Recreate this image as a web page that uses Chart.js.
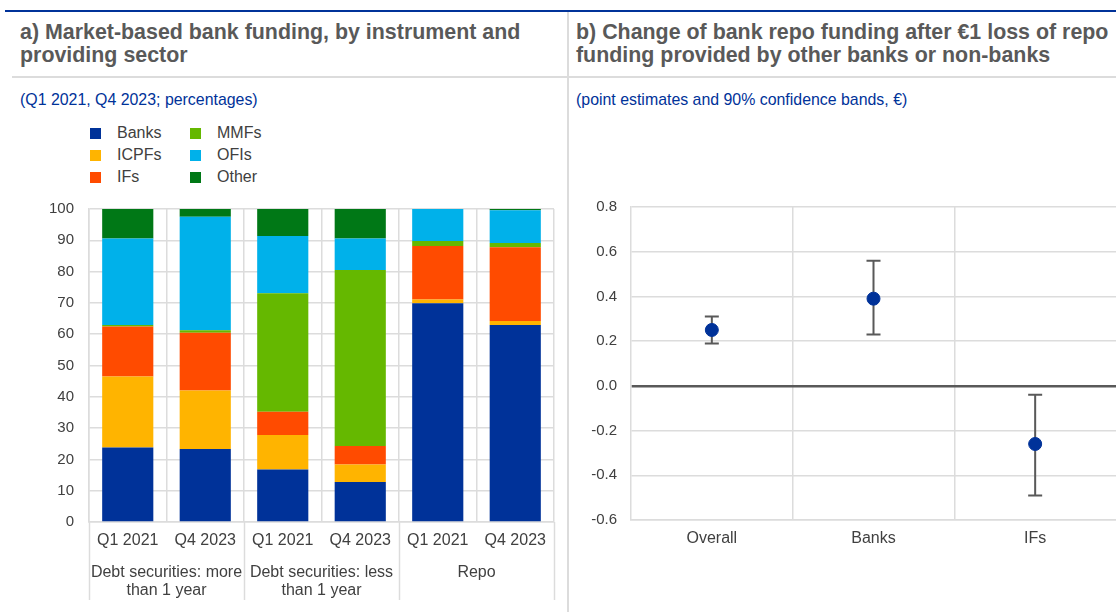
<!DOCTYPE html>
<html lang="en">
<head>
<meta charset="UTF-8">
<title>Bank funding</title>
<script src="https://cdn.jsdelivr.net/npm/chart.js"></script>
<style>
  body { margin: 0; width: 1116px; height: 612px; overflow: hidden; background: #fff; font-family: "Liberation Sans", Arial, sans-serif; position: relative; }
  .abs { position: absolute; }
  .title { font-weight: bold; font-size: 21.4px; line-height: 23px; color: #595959; white-space: nowrap; }
  .sub { font-size: 15.9px; line-height: 18px; color: #003299; }
  #legend { left: 90px; top: 122px; display: grid; grid-template-rows: repeat(3, 22px); grid-auto-flow: column; grid-template-columns: 100px 100px; font-size: 16px; color: #404040; }
  #legend div { display: flex; align-items: center; }
  #legend span.box { width: 11px; height: 11px; margin-right: 16px; display: inline-block; }
</style>
</head>
<body>
<div class="abs" style="left:5px;top:10px;width:1111px;height:2px;background:#003299"></div>
<div class="abs" style="left:567px;top:12px;width:2px;height:600px;background:#dcdcdc"></div>
<div class="abs" style="left:12px;top:76px;width:1104px;height:2px;background:#dcdcdc"></div>

<div class="abs title" style="left:20px;top:21px">a) Market-based bank funding, by instrument and<br>providing sector</div>
<div class="abs title" style="left:576px;top:21px">b) Change of bank repo funding after €1 loss of repo<br>funding provided by other banks or non-banks</div>
<div class="abs sub" style="left:20px;top:91px">(Q1 2021, Q4 2023; percentages)</div>
<div class="abs sub" style="left:576px;top:91px">(point estimates and 90% confidence bands, €)</div>

<div id="legend" class="abs"></div>

<div class="abs" style="left:0;top:185px;width:567px;height:427px"><canvas id="left"></canvas></div>
<div class="abs" style="left:568px;top:184px;width:557px;height:428px"><canvas id="right"></canvas></div>

<script>
// panel a
const categories = ['Q1 2021', 'Q4 2023', 'Q1 2021', 'Q4 2023', 'Q1 2021', 'Q4 2023'];
const groups = [['Debt securities: more', 'than 1 year'], ['Debt securities: less', 'than 1 year'], 'Repo'];
const banks = [23.8, 23.3, 16.8, 12.8, 69.9, 62.9];
const icpfs = [22.7, 18.7, 11.0, 5.6, 1.2, 1.3];
const ifs = [16.0, 18.5, 7.4, 5.9, 17.1, 23.6];
const mmfs = [0.4, 0.8, 37.9, 56.2, 1.6, 1.3];
const ofis = [27.7, 36.2, 18.3, 10.1, 10.2, 10.5];
const other = [9.4, 2.5, 8.6, 9.4, 0.0, 0.4];

// panel b
const sectors = ['Overall', 'Banks', 'IFs'];
const estimate = [0.25, 0.39, -0.26];
const lower = [0.19, 0.23, -0.49];
const upper = [0.31, 0.56, -0.04];

const GRID = '#dcdcdc';
const TXT = '#404040';
const FONT = '"Liberation Sans", Arial, sans-serif';

const series = [
  { label: 'Banks', data: banks, color: '#003299' },
  { label: 'ICPFs', data: icpfs, color: '#FFB400' },
  { label: 'IFs', data: ifs, color: '#FF4B00' },
  { label: 'MMFs', data: mmfs, color: '#65B800' },
  { label: 'OFIs', data: ofis, color: '#00B1EA' },
  { label: 'Other', data: other, color: '#007816' }
];

// html legend
const legendEl = document.getElementById('legend');
series.forEach(s => {
  const d = document.createElement('div');
  d.innerHTML = '<span class="box" style="background:' + s.color + '"></span>' + s.label;
  legendEl.appendChild(d);
});

// long lines between the instrument groups, below the axis
const groupLines = {
  id: 'groupLines',
  afterDraw(chart) {
    const x = chart.scales.x, x2 = chart.scales.x2;
    const ctx = chart.ctx;
    ctx.save();
    ctx.strokeStyle = GRID;
    ctx.lineWidth = 1.5;
    [0, 2, 4, 6].forEach(i => {
      const px = Math.round(x.getPixelForValue(i - 0.5)) + 0.5;
      ctx.beginPath();
      ctx.moveTo(px, x.top);
      ctx.lineTo(px, x2.bottom - 12);
      ctx.stroke();
    });
    ctx.restore();
  }
};

new Chart(document.getElementById('left'), {
  type: 'bar',
  data: {
    labels: categories,
    datasets: series.map(s => ({
      label: s.label,
      data: s.data,
      backgroundColor: s.color,
      borderWidth: 0,
      barPercentage: 0.66,
      categoryPercentage: 1.0
    }))
  },
  options: {
    animation: false,
    responsive: true,
    maintainAspectRatio: false,
    layout: { padding: { top: 0, right: 13, left: 0, bottom: 0 } },
    plugins: { legend: { display: false }, tooltip: { enabled: false } },
    scales: {
      x: {
        stacked: true,
        grid: { color: GRID, lineWidth: 1.5, drawTicks: false, offset: true },
        border: { color: GRID, width: 1.5 },
        ticks: { color: TXT, font: { family: FONT, size: 16 }, padding: 9, maxRotation: 0, autoSkip: false },
        afterFit: s => { s.height = 28; }
      },
      x2: {
        type: 'category',
        position: 'bottom',
        labels: groups,
        offset: true,
        grid: { display: false },
        border: { display: false },
        ticks: { color: TXT, font: { family: FONT, size: 16, lineHeight: 1.15 }, padding: 5, maxRotation: 0, autoSkip: false },
        afterFit: s => { s.height = 62; }
      },
      y: {
        stacked: true,
        min: 0,
        max: 100,
        ticks: { stepSize: 10, color: TXT, font: { family: FONT, size: 15 }, padding: 15 },
        grid: { color: GRID, lineWidth: 1.5, drawTicks: false },
        border: { color: GRID, width: 1.5 },
        afterFit: s => { s.width = 89; }
      }
    }
  },
  plugins: [groupLines]
});

// confidence bands drawn under the points
const errorBars = {
  id: 'errorBars',
  beforeDatasetsDraw(chart) {
    const x = chart.scales.x, y = chart.scales.y;
    const ctx = chart.ctx;
    ctx.save();
    ctx.strokeStyle = '#595959';
    ctx.lineWidth = 2;
    sectors.forEach((s, i) => {
      const px = x.getPixelForValue(i + 0.5);
      const lo = y.getPixelForValue(lower[i]);
      const hi = y.getPixelForValue(upper[i]);
      ctx.beginPath();
      ctx.moveTo(px, lo); ctx.lineTo(px, hi);
      ctx.moveTo(px - 7, lo); ctx.lineTo(px + 7, lo);
      ctx.moveTo(px - 7, hi); ctx.lineTo(px + 7, hi);
      ctx.stroke();
    });
    ctx.restore();
  }
};

new Chart(document.getElementById('right'), {
  type: 'scatter',
  data: {
    datasets: [{
      label: 'Point estimate',
      data: sectors.map((s, i) => ({ x: i + 0.5, y: estimate[i] })),
      backgroundColor: '#003299',
      borderColor: '#003299',
      pointRadius: 6.5
    }]
  },
  options: {
    animation: false,
    responsive: true,
    maintainAspectRatio: false,
    layout: { padding: { top: 0, right: 0, left: 0, bottom: 0 } },
    plugins: { legend: { display: false }, tooltip: { enabled: false } },
    scales: {
      x: {
        type: 'linear',
        min: 0,
        max: 3,
        afterBuildTicks: s => { s.ticks = [0, 0.5, 1, 1.5, 2, 2.5, 3].map(v => ({ value: v })); },
        grid: {
          drawTicks: false,
          lineWidth: 1.5,
          color: c => (c.tick && (c.tick.value === 1 || c.tick.value === 2)) ? GRID : 'rgba(0,0,0,0)'
        },
        border: { color: GRID, width: 1.5 },
        ticks: {
          color: TXT,
          font: { family: FONT, size: 16 },
          padding: 9,
          maxRotation: 0,
          autoSkip: false,
          callback: v => (v % 1 === 0.5) ? sectors[Math.floor(v)] : ''
        },
        afterFit: s => { s.height = 92; }
      },
      y: {
        min: -0.6,
        max: 0.8,
        ticks: { stepSize: 0.2, color: TXT, font: { family: FONT, size: 15 }, padding: 14, callback: v => v.toFixed(1) },
        grid: {
          drawTicks: false,
          color: c => Math.abs(c.tick.value) < 1e-9 ? '#595959' : GRID,
          lineWidth: c => Math.abs(c.tick.value) < 1e-9 ? 2.5 : 1.5
        },
        border: { color: GRID, width: 1.5 },
        afterFit: s => { s.width = 63; }
      }
    }
  },
  plugins: [errorBars]
});
</script>
</body>
</html>
